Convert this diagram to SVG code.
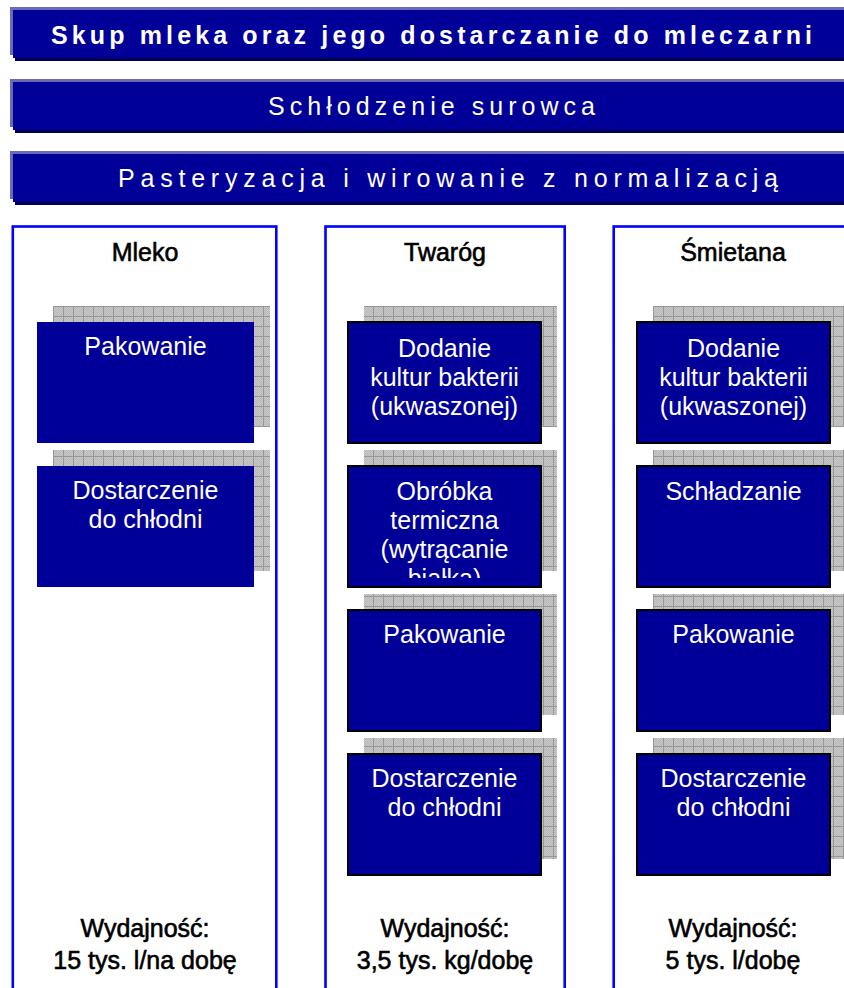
<svg xmlns="http://www.w3.org/2000/svg" width="844" height="988" viewBox="0 0 844 988">
<style>
.bl{fill:#6a6ab8}.bd{fill:#000099}.bs{fill:#00004d}
.bt{fill:#ffffff;font-family:"Liberation Sans",Arial,sans-serif;font-size:25px}
.col{fill:#ffffff;stroke:#0000ff;stroke-width:2.6}
.ttl{fill:#000000;stroke:#000000;stroke-width:0.6;font-family:"Liberation Sans",Arial,sans-serif;font-size:25px;text-anchor:middle}
.box{fill:#000099}
.bb{fill:#000099;stroke:#000000;stroke-width:2}
.sh1{fill:url(#chk)}.sh2{fill:url(#grid)}
.tx{fill:#ffffff;font-family:"Liberation Sans",Arial,sans-serif;font-size:25px;text-anchor:middle}
</style>
<defs>
<pattern id="chk" width="2" height="2" patternUnits="userSpaceOnUse">
<rect width="2" height="2" fill="#c8c8c8"/><rect width="1" height="1" fill="#b8b8b8"/><rect x="1" y="1" width="1" height="1" fill="#b8b8b8"/>
</pattern>
<pattern id="grid" x="3" y="6" width="10" height="10" patternUnits="userSpaceOnUse">
<rect x="0" y="0" width="10" height="1" fill="#979797"/><rect x="0" y="0" width="1" height="10" fill="#979797"/>
</pattern>
<clipPath id="clipObr"><rect x="348" y="466" width="193" height="112"/></clipPath>
</defs>
<rect width="844" height="988" fill="#ffffff"/>

<g id="banner1">
<rect class="bs" x="15" y="13" width="840" height="48"/>
<rect class="bl" x="10" y="7" width="840" height="48"/>
<rect class="bd" x="13" y="10" width="840" height="48"/>
<text class="bt" x="51" y="44" font-weight="bold" textLength="761" lengthAdjust="spacing">Skup mleka oraz jego dostarczanie do mleczarni</text>
</g>
<g id="banner2">
<rect class="bs" x="15" y="85" width="840" height="48"/>
<rect class="bl" x="10" y="79" width="840" height="48"/>
<rect class="bd" x="13" y="82" width="840" height="48"/>
<text class="bt" x="268" y="115" textLength="327" lengthAdjust="spacing">Schłodzenie surowca</text>
</g>
<g id="banner3">
<rect class="bs" x="15" y="157" width="840" height="48"/>
<rect class="bl" x="10" y="151" width="840" height="48"/>
<rect class="bd" x="13" y="154" width="840" height="48"/>
<text class="bt" x="118" y="187" textLength="660" lengthAdjust="spacing">Pasteryzacja i wirowanie z normalizacją</text>
</g>

<g id="col-mleko">
<rect class="col" x="12.8" y="226.5" width="263.5" height="800"/>
<text class="ttl" x="145" y="261">Mleko</text>
<text class="ttl" x="145" y="937">Wydajność:</text>
<text class="ttl" x="145" y="969">15 tys. l/na dobę</text>
</g>
<g id="col-twarog">
<rect class="col" x="325.5" y="226.5" width="239.2" height="800"/>
<text class="ttl" x="445" y="261">Twaróg</text>
<text class="ttl" x="445" y="937">Wydajność:</text>
<text class="ttl" x="445" y="969">3,5 tys. kg/dobę</text>
</g>
<g id="col-smietana">
<rect class="col" x="613.7" y="226.5" width="260" height="800"/>
<text class="ttl" x="733" y="261">Śmietana</text>
<text class="ttl" x="733" y="937">Wydajność:</text>
<text class="ttl" x="733" y="969">5 tys. l/dobę</text>
</g>

<g id="m-pakowanie">
<rect class="sh1" x="53" y="306" width="217" height="121"/><rect class="sh2" x="53" y="306" width="217" height="121"/>
<rect class="box" x="37" y="322" width="217" height="121"/>
<text class="tx" x="145.5" y="355">Pakowanie</text>
</g>
<g id="m-dostarczenie">
<rect class="sh1" x="53" y="450" width="217" height="121"/><rect class="sh2" x="53" y="450" width="217" height="121"/>
<rect class="box" x="37" y="466" width="217" height="121"/>
<text class="tx" x="145.5" y="499">Dostarczenie</text>
<text class="tx" x="145.5" y="528">do chłodni</text>
</g>

<g id="t-dodanie">
<rect class="sh1" x="364" y="306" width="193" height="121"/><rect class="sh2" x="364" y="306" width="193" height="121"/>
<rect class="bb" x="348" y="322" width="193" height="121"/>
<text class="tx" x="444.5" y="357">Dodanie</text>
<text class="tx" x="444.5" y="386">kultur bakterii</text>
<text class="tx" x="444.5" y="415">(ukwaszonej)</text>
</g>
<g id="t-obrobka">
<rect class="sh1" x="364" y="450" width="193" height="121"/><rect class="sh2" x="364" y="450" width="193" height="121"/>
<rect class="bb" x="348" y="466" width="193" height="121"/>
<g clip-path="url(#clipObr)">
<text class="tx" x="444.5" y="500">Obróbka</text>
<text class="tx" x="444.5" y="529">termiczna</text>
<text class="tx" x="444.5" y="558">(wytrącanie</text>
<text class="tx" x="444.5" y="587">białka)</text>
</g>
</g>
<g id="t-pakowanie">
<rect class="sh1" x="364" y="594" width="193" height="121"/><rect class="sh2" x="364" y="594" width="193" height="121"/>
<rect class="bb" x="348" y="610" width="193" height="121"/>
<text class="tx" x="444.5" y="643">Pakowanie</text>
</g>
<g id="t-dostarczenie">
<rect class="sh1" x="364" y="738" width="193" height="121"/><rect class="sh2" x="364" y="738" width="193" height="121"/>
<rect class="bb" x="348" y="754" width="193" height="121"/>
<text class="tx" x="444.5" y="787">Dostarczenie</text>
<text class="tx" x="444.5" y="816">do chłodni</text>
</g>

<g id="s-dodanie">
<rect class="sh1" x="653" y="306" width="193" height="121"/><rect class="sh2" x="653" y="306" width="193" height="121"/>
<rect class="bb" x="637" y="322" width="193" height="121"/>
<text class="tx" x="733.5" y="357">Dodanie</text>
<text class="tx" x="733.5" y="386">kultur bakterii</text>
<text class="tx" x="733.5" y="415">(ukwaszonej)</text>
</g>
<g id="s-schladzanie">
<rect class="sh1" x="653" y="450" width="193" height="121"/><rect class="sh2" x="653" y="450" width="193" height="121"/>
<rect class="bb" x="637" y="466" width="193" height="121"/>
<text class="tx" x="733.5" y="500">Schładzanie</text>
</g>
<g id="s-pakowanie">
<rect class="sh1" x="653" y="594" width="193" height="121"/><rect class="sh2" x="653" y="594" width="193" height="121"/>
<rect class="bb" x="637" y="610" width="193" height="121"/>
<text class="tx" x="733.5" y="643">Pakowanie</text>
</g>
<g id="s-dostarczenie">
<rect class="sh1" x="653" y="738" width="193" height="121"/><rect class="sh2" x="653" y="738" width="193" height="121"/>
<rect class="bb" x="637" y="754" width="193" height="121"/>
<text class="tx" x="733.5" y="787">Dostarczenie</text>
<text class="tx" x="733.5" y="816">do chłodni</text>
</g>
<g id="connectors"/>
</svg>
